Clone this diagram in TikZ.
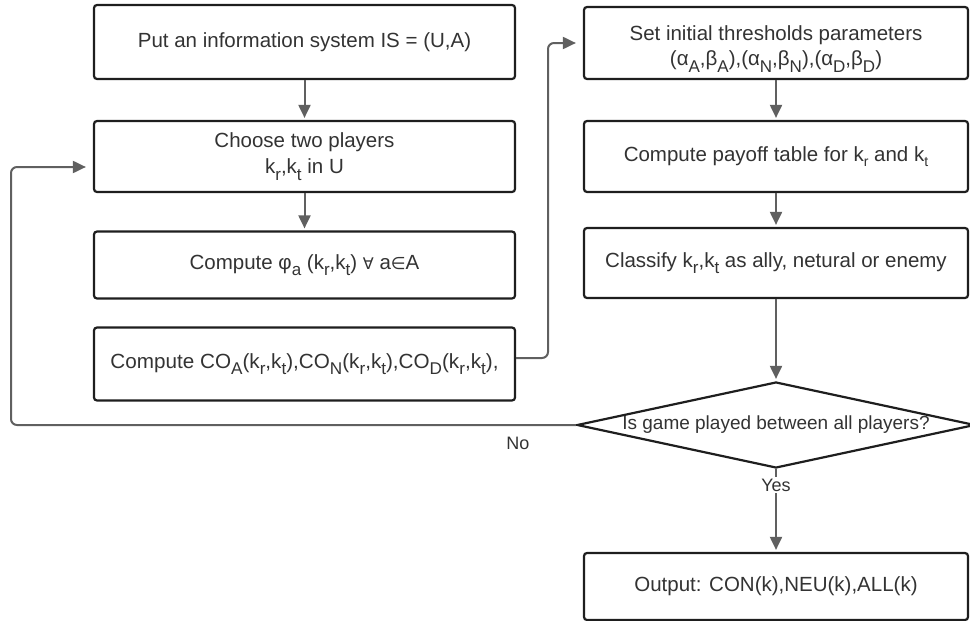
\documentclass[tikz,border=0pt]{standalone}
\usepackage{fontspec}
\usepackage{graphicx}
\setmainfont{Liberation Sans}
\newfontfamily\symfont{DejaVu Sans}
\usetikzlibrary{shapes.geometric,arrows.meta}
% lowered, slightly smaller index letters
\newcommand\lo[1]{\raisebox{-0.32em}{\fontsize{17}{17}\selectfont #1}}
\newcommand\los[1]{\raisebox{-0.22em}{\fontsize{14}{14}\selectfont #1}}
\definecolor{boxline}{HTML}{1E1E1E}
\definecolor{connline}{HTML}{606060}
\definecolor{txt}{HTML}{333333}

\begin{document}
\begin{tikzpicture}[x=1pt,y=-1pt,
  font=\fontsize{20.5}{25}\selectfont,
  stepbox/.style={draw=boxline, line width=2.2pt, rounded corners=3pt, fill=white,
    align=center, text=txt, inner sep=0pt},
  leftbox/.style={stepbox, minimum width=421pt},
  rightbox/.style={stepbox, minimum width=384pt},
  flow/.style={draw=connline, line width=2pt, rounded corners=6pt,
    -{Triangle[length=13pt,width=12pt]}, shorten >=2pt},
  lbl/.style={text=txt, font=\fontsize{18}{20}\selectfont, inner sep=2pt},
]
\useasboundingbox (0,0) rectangle (970,621);

% left column
\node[leftbox, minimum height=74pt] (b1) at (304.5,42)
  {Put an information system IS = (U,A)};
\node[leftbox, minimum height=71pt] (b2) at (304.5,156.5)
  {Choose two players\\[1pt] k\lo{r},k\lo{t} in U};
\node[leftbox, minimum height=67pt] (b3) at (304.5,265)
  {Compute φ\lo{a} (k\lo{r},k\lo{t}) {\symfont\fontsize{16}{16}\selectfont ∀} a{\symfont\fontsize{17}{17}\selectfont ∈}A};
\node[leftbox, minimum height=73pt] (b4) at (304.5,364)
  {\resizebox{388pt}{\height}{Compute CO\lo{A}(k\lo{r},k\lo{t}),CO\lo{N}(k\lo{r},k\lo{t}),CO\lo{D}(k\lo{r},k\lo{t}),}};

% right column
\node[rightbox, minimum height=72pt] (r1) at (776,43)
  {\raisebox{-5pt}[\height][\depth]{\begin{tabular}{@{}c@{}}Set initial thresholds parameters\\[0pt]
   (α\lo{A},β\lo{A}),(α\lo{N},β\lo{N}),(α\lo{D},β\lo{D})\end{tabular}}};
\node[rightbox, minimum height=71pt] (r2) at (776,156.5)
  {Compute payoff table for k\los{r} and k\los{t}};
\node[rightbox, minimum height=70pt] (r3) at (776,263)
  {Classify k\lo{r},k\lo{t} as ally, netural or enemy};
\node[draw=boxline, line width=2.2pt, diamond, aspect=4.6, fill=white,
  minimum width=398pt, minimum height=86pt, inner sep=0pt, text=txt,
  font=\fontsize{19}{22}\selectfont] (dia) at (776,425)
  {Is game played between all players?};
\node[stepbox, minimum width=384pt, minimum height=67pt] (out) at (776,586.5)
  {Output: CON(k),NEU(k),ALL(k)};

% connectors
\draw[flow] (b1) -- (b2);
\draw[flow] (b2) -- (b3);
\coordinate (j1) at (548,358);
\draw[flow, shorten >=7pt] (b4.east |- j1) -- (j1) |- (r1.west);
\draw[flow] (r1) -- (r2);
\draw[flow] (r2) -- (r3);
\draw[flow] (r3) -- (dia);
\draw[flow] (dia) -- (out);
\coordinate (fb) at (11,167);
\draw[flow, shorten >=7pt] (dia.west) -| (fb) -- (b2.west |- fb);

% branch labels
\node[lbl] (no) at (518,443) {No};
\node[lbl, fill=white] (yes) at (776,485) {Yes};
\end{tikzpicture}
\end{document}
